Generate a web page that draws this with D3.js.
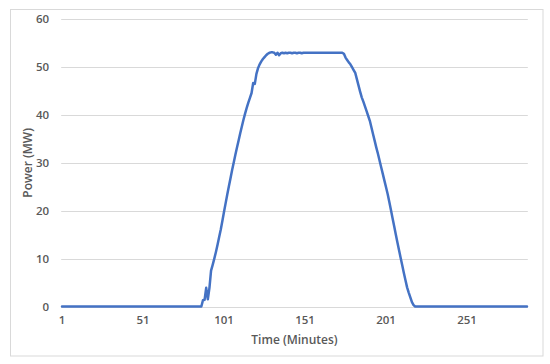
<!DOCTYPE html>
<html>
<head>
<meta charset="utf-8">
<script src="https://cdn.jsdelivr.net/npm/d3@7"></script>
<style>
  html, body { margin: 0; padding: 0; background: #fff; }
  svg { display: block; }
  text { font-family: "Open Sans", "Liberation Sans", sans-serif; fill: #595959; font-weight: 600; }
</style>
</head>
<body>
<svg id="chart" width="550" height="364"></svg>
<script>
// ---- Data ----
const xTickLabels = ["1", "51", "101", "151", "201", "251"];
const yTicks = [0, 10, 20, 30, 40, 50, 60];
const xTitle = "Time (Minutes)";
const yTitle = "Power (MW)";
// Power (MW) for minutes 1..288
const power = [
  0,0,0,0,0,0,0,0,0,0, 0,0,0,0,0,0,0,0,0,0,           // 1-20
  0,0,0,0,0,0,0,0,0,0, 0,0,0,0,0,0,0,0,0,0,           // 21-40
  0,0,0,0,0,0,0,0,0,0, 0,0,0,0,0,0,0,0,0,0,           // 41-60
  0,0,0,0,0,0,0,0,0,0, 0,0,0,0,0,0,0,0,0,0,           // 61-80
  0,0,0,0,0,0,0,1.3,                                   // 81-88
  1.4,3.9,1.5,3.9,7.5,8.7,10.0,11.4,12.9,14.5,         // 89-98
  16.1,17.9,19.8,21.6,23.4,25.1,26.8,28.5,30.1,31.7,   // 99-108
  33.2,34.7,36.2,37.6,39.0,40.3,41.5,42.6,43.6,44.6,   // 109-118
  46.7,46.5,48.6,49.8,50.6,51.2,51.7,52.1,52.5,52.8,   // 119-128
  53.0,53.1,53.1,53.0,52.6,53.0,52.5,52.9,53.0,52.9,   // 129-138
  53.0,52.9,53.0,53.0,52.9,53.0,53.0,52.9,53.0,53.0,   // 139-148
  52.9,53.0,53.0,53.0,53.0,53.0,53.0,53.0,53.0,53.0,   // 149-158
  53.0,53.0,53.0,53.0,53.0,53.0,53.0,53.0,53.0,53.0,   // 159-168
  53.0,53.0,53.0,53.0,53.0,53.0,52.8,52.0,51.5,51.0,   // 169-178
  50.6,50.0,49.4,48.8,47.5,46.2,44.9,43.7,42.8,41.8,   // 179-188
  40.8,39.8,38.8,37.4,36.0,34.6,33.2,31.9,30.5,29.1,   // 189-198
  27.7,26.3,24.9,23.5,21.9,20.2,18.5,16.8,15.1,13.4,   // 199-208
  11.8,10.2,8.6,7.0,5.5,4.0,2.9,1.9,0.9,0.3,           // 209-218
  0,0,0,0,0,0,0,0,0,0, 0,0,0,0,0,0,0,0,0,0,           // 219-238
  0,0,0,0,0,0,0,0,0,0, 0,0,0,0,0,0,0,0,0,0,           // 239-258
  0,0,0,0,0,0,0,0,0,0, 0,0,0,0,0,0,0,0,0,0,           // 259-278
  0,0,0,0,0,0,0,0,0,0                                  // 279-288
];
const minutes = power.map((d, i) => String(i + 1));

// ---- Layout ----
const svg = d3.select("#chart");
const mLeft = 61.2, mRight = 527.8, mTop = 19.3, mBottom = 306.5;
const fontStack = '"Open Sans", "Liberation Sans", sans-serif';

svg.append("rect")
  .attr("x", 10.5).attr("y", 9.5).attr("width", 532.5).attr("height", 346.5)
  .attr("fill", "#fff").attr("stroke", "#d9d9d9").attr("stroke-width", 1);

const x = d3.scaleBand().domain(minutes).range([mLeft, mRight]).padding(0);
const y = d3.scaleLinear().domain([0, 60]).range([mBottom, mTop]);

// gridlines
svg.append("g").selectAll("line").data(yTicks).join("line")
  .attr("x1", mLeft).attr("x2", mRight)
  .attr("y1", d => Math.round(y(d)) + 0.5).attr("y2", d => Math.round(y(d)) + 0.5)
  .attr("stroke", "#d9d9d9").attr("stroke-width", 1);

// y axis labels
const yAxis = d3.axisLeft(y).tickValues(yTicks).tickSize(0).tickPadding(0);
const gy = svg.append("g").attr("transform", `translate(${mLeft - 12},0)`).call(yAxis);
gy.select(".domain").remove();
gy.selectAll("text").attr("font-size", 11.5).attr("fill", "#595959")
  .attr("font-weight", 600).style("font-family", fontStack);

// x axis labels
const xAxis = d3.axisBottom(x).tickValues(xTickLabels).tickSize(0).tickPadding(0);
const gx = svg.append("g").attr("transform", `translate(0,${mBottom + 9})`).call(xAxis);
gx.select(".domain").remove();
gx.selectAll("text").attr("font-size", 11.5).attr("fill", "#595959")
  .attr("font-weight", 600).style("font-family", fontStack);

// axis titles
svg.append("text")
  .attr("x", (mLeft + mRight) / 2).attr("y", 344)
  .attr("text-anchor", "middle").attr("font-size", 12)
  .text(xTitle);
svg.append("text")
  .attr("transform", `translate(32,${(mTop + mBottom) / 2}) rotate(-90)`)
  .attr("text-anchor", "middle").attr("font-size", 12)
  .text(yTitle);

// line
const line = d3.line()
  .x((d, i) => x(minutes[i]) + x.bandwidth() / 2)
  .y(d => y(d));
svg.append("path")
  .datum(power)
  .attr("d", line)
  .attr("fill", "none")
  .attr("stroke", "#4472C4")
  .attr("stroke-width", 2.5)
  .attr("stroke-linejoin", "round")
  .attr("stroke-linecap", "round");
</script>
</body>
</html>
